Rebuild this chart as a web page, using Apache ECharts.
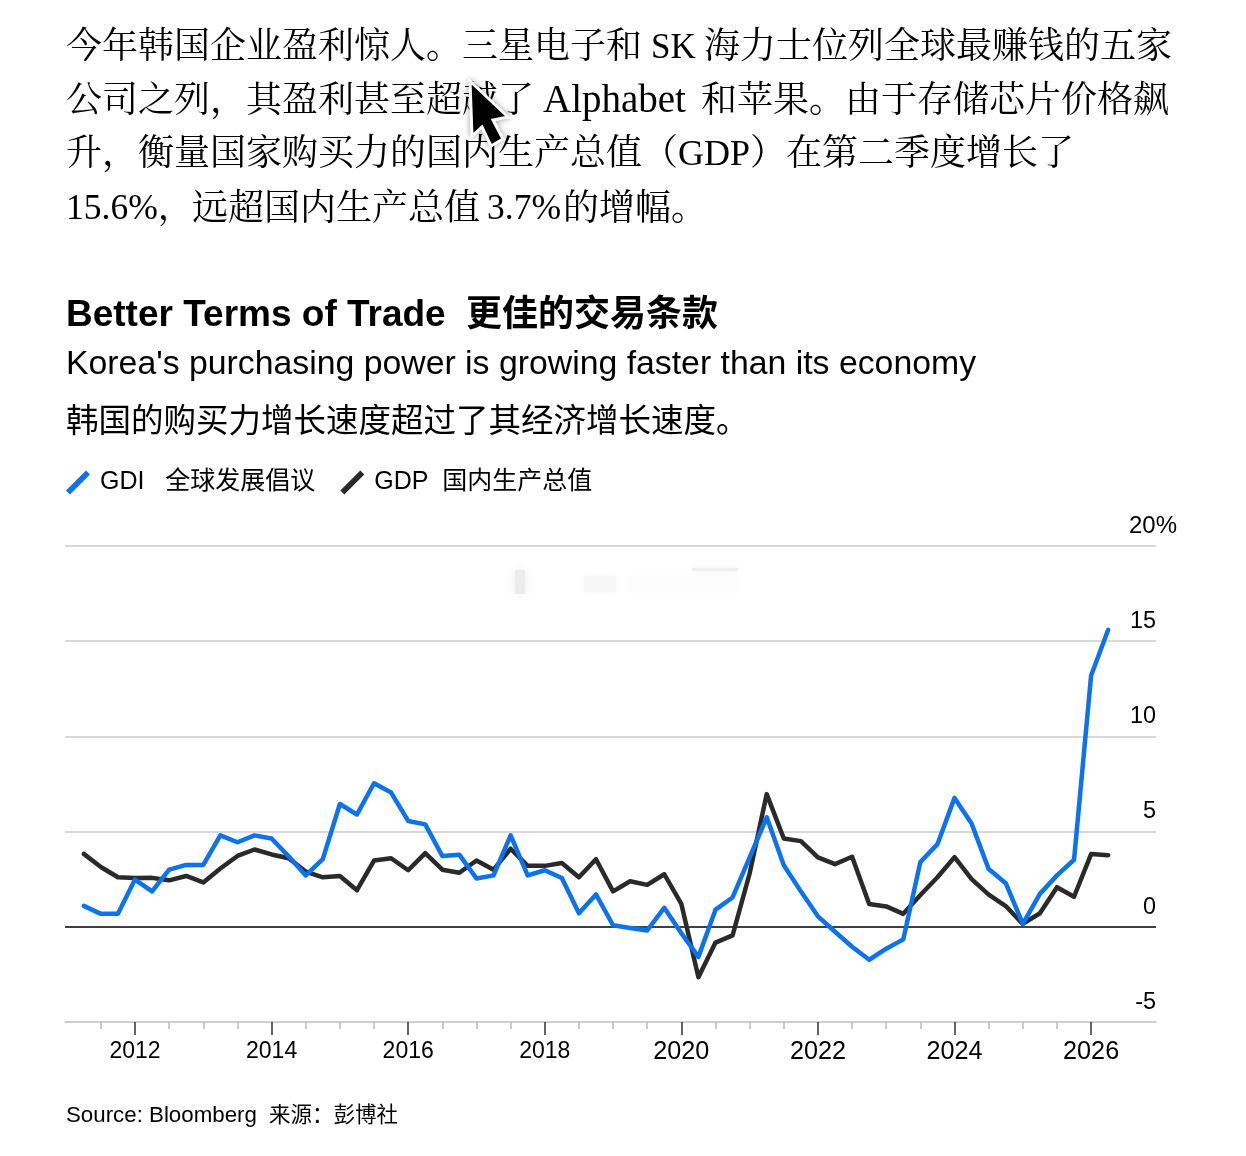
<!DOCTYPE html>
<html><head><meta charset="utf-8">
<style>html,body{margin:0;padding:0;background:#fff}#c{width:1246px;height:1156px}</style>
<script src="https://cdn.jsdelivr.net/npm/echarts@6/dist/echarts.min.js"></script>
</head><body><div id="c"></div>
<script>
const bodySegments = [
  ["今年韩国企业盈利惊人。三星电子和",66,49,36],
  ["SK",651,49,35],
  ["海力士位列全球最赚钱的五家",704,49,36],
  ["公司之列，其盈利甚至超越了",66,103,36],
  ["Alphabet",543,102,39],
  ["和苹果。由于存储芯片价格飙",701,103,36],
  ["升，衡量国家购买力的国内生产总值（GDP）在第二季度增长了",66,156,36],
  ["15.6%，",66,210,35.5],
  ["远超国内生产总值",192,211,36],
  ["3.7%",487,210,35.5],
  ["的增幅。",563,211,36]
];
const titleEn = "Better Terms of Trade";
const titleZh = "更佳的交易条款";
const subtitleEn = "Korea's purchasing power is growing faster than its economy";
const subtitleZh = "韩国的购买力增长速度超过了其经济增长速度。";
const sourceEn = "Source: Bloomberg";
const sourceZh = "来源：彭博社";
const gdiName = "GDI   全球发展倡议";
const gdpName = "GDP  国内生产总值";
const firstQuarter = 2011.25;
const gdi = [1.1,0.68,0.68,2.48,1.86,3.0,3.25,3.25,4.8,4.44,4.8,4.64,3.7,2.7,3.55,6.45,5.9,7.54,7.05,5.56,5.38,3.72,3.78,2.54,2.7,4.8,2.7,2.97,2.56,0.71,1.7,0.08,-0.06,-0.19,1.0,-0.34,-1.58,0.9,1.54,3.65,5.75,3.23,1.86,0.55,-0.26,-1.05,-1.73,-1.15,-0.66,3.4,4.34,6.77,5.43,3.03,2.29,0.15,1.73,2.7,3.52,13.2,15.6];
const gdp = [3.83,3.14,2.6,2.56,2.57,2.44,2.67,2.33,3.06,3.72,4.06,3.8,3.6,2.9,2.6,2.67,1.92,3.48,3.6,2.97,3.87,3.0,2.84,3.48,3.0,4.1,3.2,3.2,3.35,2.6,3.55,1.86,2.39,2.2,2.76,1.2,-2.65,-0.83,-0.45,2.8,6.97,4.64,4.5,3.65,3.29,3.68,1.2,1.07,0.68,1.67,2.6,3.66,2.5,1.69,1.09,0.15,0.71,2.08,1.58,3.82,3.76];
const yearTicks = [2012,2014,2016,2018,2020,2022,2024,2026];
const halfYearTicks = [2011.5,2012.5,2013,2013.5,2014.5,2015,2015.5,2016.5,2017,2017.5,2018.5,2019,2019.5,2020.5,2021,2021.5,2022.5,2023,2023.5,2024.5,2025,2025.5];
const yTicks = [-5,0,5,10,15];
const yTop = [20];

const SANS = '"Liberation Sans","Noto Sans CJK SC",sans-serif';
const SERIF = '"Liberation Serif","Noto Serif CJK SC","Noto Sans CJK SC",serif';
const toPts = a => a.map((v,i)=>[firstQuarter+i/4,v]);
const txt = (text,x,y,size,family,weight) => ({type:'text',x,y,silent:true,style:{text,fontSize:size,fontFamily:family,fontWeight:weight||'normal',fill:'#000',verticalAlign:'middle'}});
const smudge = (x,y,w,h,fill,blur) => ({type:'rect',silent:true,z:1,shape:{x,y,width:w,height:h},style:{fill,shadowBlur:blur,shadowColor:fill}});

const chart = echarts.init(document.getElementById('c'),null,{renderer:'canvas'});
chart.setOption({
  animation:false,
  backgroundColor:'#fff',
  grid:{left:65,right:90,top:546,height:476,containLabel:false},
  legend:{left:61,top:465,itemWidth:24,itemHeight:24,itemGap:25,
    textStyle:{fontSize:25,fontFamily:SANS,color:'#000',padding:[0,0,0,5]},
    data:[{name:gdiName,icon:'path://M0,20 L20,0 L24,4 L4,24 Z'},{name:gdpName,icon:'path://M0,20 L20,0 L24,4 L4,24 Z'}]},
  xAxis:[
    {type:'value',min:2010.975,max:2026.95,splitLine:{show:false},
     axisLine:{show:true,onZero:false,lineStyle:{color:'#ccc',width:1.5}},
     axisTick:{show:true,customValues:yearTicks,length:13,lineStyle:{color:'#333',width:1.5}},
     axisLabel:{show:true,customValues:yearTicks,margin:16,color:'#000',fontFamily:SANS,
       formatter:v=>v>=2020?'{w|'+v+'}':'{n|'+v+'}',
       rich:{n:{fontSize:23,lineHeight:28,fontFamily:SANS,color:'#000'},w:{fontSize:25.2,lineHeight:28,fontFamily:SANS,color:'#000'}}}},
    {type:'value',min:2010.975,max:2026.95,position:'bottom',splitLine:{show:false},
     axisLine:{show:false,onZero:false},
     axisTick:{show:true,customValues:halfYearTicks,length:7,lineStyle:{color:'#bbb',width:1.5}},
     axisLabel:{show:false}}
  ],
  yAxis:[
    {type:'value',min:-5,max:20,interval:5,position:'right',
     axisLine:{show:false},axisTick:{show:false},
     splitLine:{show:true,lineStyle:{color:['#ccc','#000','#ccc','#ccc','#ccc','#ccc'],width:1.5}},
     axisLabel:{inside:true,customValues:yTicks,formatter:v=>String(v),align:'right',verticalAlign:'bottom',margin:0,padding:[0,0,8,0],fontSize:23.4,fontFamily:SANS,color:'#000'}},
    {type:'value',min:-5,max:20,position:'right',
     axisLine:{show:false},axisTick:{show:false},splitLine:{show:false},
     axisLabel:{inside:true,customValues:yTop,formatter:v=>v+'%',align:'right',verticalAlign:'bottom',margin:-21,padding:[0,0,8,0],fontSize:24,fontFamily:SANS,color:'#000'}}
  ],
  series:[
    {name:gdpName,type:'line',data:toPts(gdp),showSymbol:false,color:'#2a2a2a',z:3,
     lineStyle:{color:'#2a2a2a',width:4.5,cap:'round',join:'round'}},
    {name:gdiName,type:'line',data:toPts(gdi),showSymbol:false,color:'#0b72f0',z:4,
     lineStyle:{color:'#0b72f0',width:4.5,cap:'round',join:'round'}}
  ],
  graphic:{elements:[
    ...bodySegments.map(s=>txt(s[0],s[1],s[2],s[3],SERIF)),
    txt(titleEn,66,316,37,SANS,'bold'),
    txt(titleZh,466,316,36,SANS,'bold'),
    txt(subtitleEn,66,365,33.8,SANS),
    txt(subtitleZh,66,423,32.5,SANS),
    txt(sourceEn,66,1116,22.3,SANS),
    txt(sourceZh,269,1116,21.5,SANS),
    smudge(515,570,10,24,'#ececec',12),
    smudge(584,576,32,16,'#f7f7f7',8),
    smudge(627,576,111,16,'#fcfcfc',8),
    smudge(692,568,46,3,'#efefef',6),
    {type:'polygon',silent:true,z:20,shape:{points:[[470,81],[508,117],[493,120],[503,139],[491,146],[482,127],[472,136]]},
     style:{fill:'#000',stroke:'#fff',lineWidth:3,shadowBlur:6,shadowColor:'rgba(0,0,0,0.3)'}}
  ]}
});
</script></body></html>
